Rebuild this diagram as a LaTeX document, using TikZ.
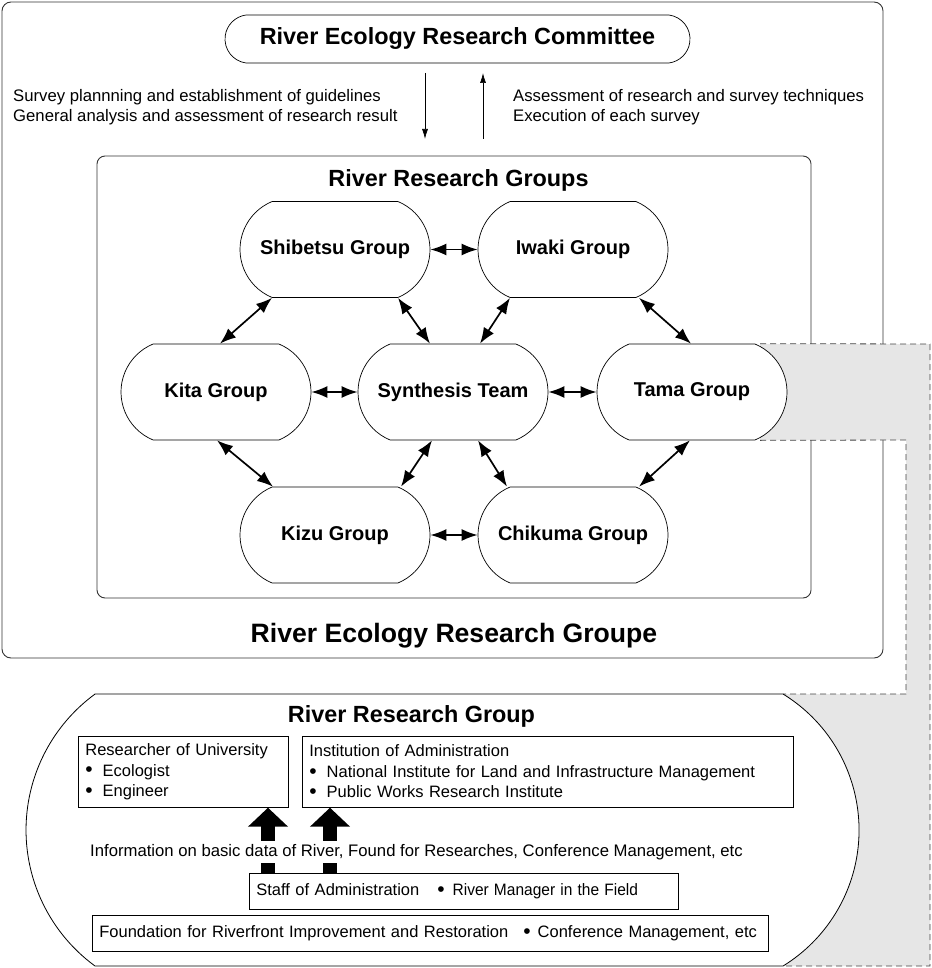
\documentclass[tikz,border=0pt]{standalone}
\usepackage{fontspec}
\setmainfont{Liberation Sans}
\usetikzlibrary{shapes.misc,arrows.meta,calc}
\definecolor{bandgrey}{HTML}{E6E6E6}
\definecolor{dashgrey}{HTML}{444444}
\definecolor{framegrey}{HTML}{333333}
\newcommand\fsz[2]{\fontsize{#1}{#2}\selectfont}
\newcommand\bigbul{\raisebox{-0.8pt}{\fsz{21}{21}\textbullet}}
\tikzset{
  grp/.style={rounded rectangle, rounded rectangle arc length=135, draw, fill=white,
    minimum width=190pt, minimum height=96pt, inner sep=0pt, line width=0.7pt,
    font=\fsz{20}{24}\bfseries},
  biarrow/.style={{Latex[length=16pt,width=12pt]}-{Latex[length=16pt,width=12pt]}, line width=1.7pt},
  thinarrow/.style={-{Latex[length=10pt,width=6pt]}, line width=0.7pt},
  infobox/.style={draw, line width=0.7pt, align=left, inner xsep=7pt, inner ysep=2pt,
    font=\fsz{16.5}{20.5}, anchor=north west},
  smalltext/.style={align=left, inner sep=0pt, font=\fsz{16.7}{19.5}, anchor=west},
  dashedline/.style={dashgrey, line width=0.8pt, dash pattern=on 6pt off 4pt},
  blockarrow/.style={line width=14pt, -{Triangle[width=39pt,length=19pt]}},
}
\begin{document}
\begin{tikzpicture}[x=1pt,y=-1pt]
\useasboundingbox (0,0) rectangle (931,968);

% outer and inner frames
\draw[framegrey, line width=0.9pt, rounded corners=9pt] (2,2) rectangle (883,658);
\draw[framegrey, line width=0.9pt, rounded corners=8pt] (97,156) rectangle (811,598);

% committee
\node[rounded rectangle, rounded rectangle arc length=165, draw, fill=white, line width=0.7pt,
  minimum width=465pt, minimum height=48pt, inner sep=0pt, font=\fsz{23.4}{28}\bfseries]
  (comm) at (457.5,39) {River Ecology Research Committee};

\coordinate (dtop) at (425,73);
\coordinate (dbot) at (425,139);
\coordinate (utop) at (483,73);
\coordinate (ubot) at (483,139);
\draw[thinarrow] (dtop) -- (dbot);
\draw[thinarrow] (ubot) -- (utop);

\node[smalltext] (lefttxt) at (13,107) {Survey plannning and establishment of guidelines\\General analysis and assessment of research result};
\node[smalltext] (righttxt) at (513,107) {Assessment of research and survey techniques\\Execution of each survey};

\node[font=\fsz{23.4}{28}\bfseries] (rrgs) at (458.5,180) {River Research Groups};
\node[font=\fsz{26.6}{32}\bfseries] (rerg) at (454,636) {River Ecology Research Groupe};

% group nodes
\node[grp] (shib) at (335,249.5) {Shibetsu Group};
\node[grp] (iwaki) at (573,249.5) {Iwaki Group};
\node[grp] (kita) at (216,392) {Kita Group};
\node[grp] (syn) at (453,392) {Synthesis Team};
\node[grp] (kizu) at (335,535) {Kizu Group};
\node[grp] (chik) at (573,535) {Chikuma Group};

% grey band from Tama group to the bottom group
\coordinate (bandtop) at (930,344);
\coordinate (bandbot) at (930,966);
\coordinate (innertop) at (906,440);
\coordinate (innerbot) at (906,694);
\fill[bandgrey] (760,344) -- (bandtop) -- (bandbot) -- (783,966) -- (783,694) -- (innerbot) -- (innertop) -- (760,440) -- cycle;

\node[grp] (tama) at (692,392) {Tama Group};

\draw[dashedline] ($(tama.north)+(68,0)$) -- (bandtop) -- (bandbot) -- (783,966);
\draw[dashedline] ($(tama.south)+(68,0)$) -- (innertop) -- (innerbot) -- (783,694);

% arrows between groups
\draw[biarrow] (shib.east) -- (iwaki.west);
\draw[biarrow] (kita.east) -- (syn.west);
\draw[biarrow] (syn.east) -- (tama.west);
\draw[biarrow] (kizu.east) -- (chik.west);
\draw[biarrow] ($(shib.south)+(-63,0)$) -- ($(kita.north)+(4,0)$);
\draw[biarrow] ($(shib.south)+(63,0)$) -- ($(syn.north)+(-23,0)$);
\draw[biarrow] ($(iwaki.south)+(-63,0)$) -- ($(syn.north)+(27,0)$);
\draw[biarrow] ($(iwaki.south)+(66,0)$) -- ($(tama.north)+(-1,0)$);
\draw[biarrow] ($(kita.south)+(1,0)$) -- ($(kizu.north)+(-62,0)$);
\draw[biarrow] ($(syn.south)+(-21,0)$) -- ($(kizu.north)+(66,0)$);
\draw[biarrow] ($(syn.south)+(25,0)$) -- ($(chik.north)+(-66,0)$);
\draw[biarrow] ($(tama.south)+(-2,0)$) -- ($(chik.north)+(66,0)$);

% bottom group container
\draw[fill=white, line width=0.8pt] (95,694) -- (783,694)
  arc[start angle=-58.4, end angle=58.4, radius=159.7] -- (95,966)
  arc[start angle=126.2, end angle=233.8, radius=168.5] -- cycle;
\node[font=\fsz{23.4}{28}\bfseries] (rrg) at (411.5,716) {River Research Group};

\node[infobox, text width=196pt, minimum height=71pt] (univ) at (78,736)
  {Researcher of University\\\bigbul\hspace{10pt}Ecologist\\\bigbul\hspace{10pt}Engineer};
\node[infobox, text width=477pt, minimum height=71pt] (inst) at (302,736)
  {Institution of Administration\\\bigbul\hspace{10pt}National Institute for Land and Infrastructure Management\\\bigbul\hspace{10pt}Public Works Research Institute};
\node[infobox, text width=415pt, minimum height=36pt] (staff) at (249,873)
  {\mbox{Staff of Administration\hspace{18pt}\bigbul\hspace{8pt}\scalebox{0.94}[1]{River Manager in the Field}}};
\node[infobox, text width=662pt, minimum height=36pt] (found) at (92,915)
  {\mbox{Foundation for Riverfront Improvement and Restoration\hspace{15pt}\bigbul\hspace{7pt}Conference Management, etc}};

\coordinate (a1) at (268,0);
\coordinate (a2) at (330,0);
\draw[blockarrow] (staff.north -| a1) -- (univ.south -| a1);
\draw[blockarrow] (staff.north -| a2) -- (inst.south -| a2);

\node[fill=white, inner xsep=2pt, inner ysep=3pt, anchor=west, font=\fsz{16.7}{20}] (info) at (88,852)
  {Information on basic data of River, Found for Researches, Conference Management, etc};
\end{tikzpicture}
\end{document}
